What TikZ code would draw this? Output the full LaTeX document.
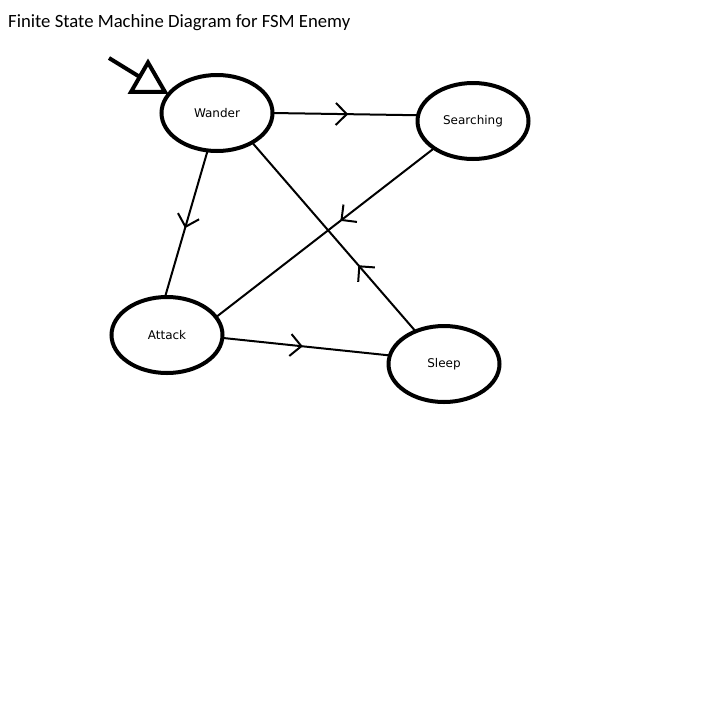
\documentclass[tikz,border=0pt]{standalone}
\usepackage{fontspec}
\setmainfont{DejaVu Sans}
\newfontfamily\titlefont{Carlito}
\usetikzlibrary{shapes.geometric,arrows.meta,decorations.markings}
\begin{document}
\begin{tikzpicture}[x=1pt,y=-1pt,
    fsmstate/.style={draw,ellipse,line width=4pt,minimum width=111pt,minimum height=76pt,
      inner sep=0pt,outer sep=0pt,font=\fontsize{12}{14}\selectfont},
    trans/.style={line width=2pt,postaction={decorate},
      decoration={markings,mark=at position #1 with {\arrow[line width=2pt]{Straight Barb[length=11pt,width=22pt]}}}}]
  \useasboundingbox (0,0) rectangle (714,710);
  \node[anchor=base west,inner sep=0pt,font=\titlefont\fontsize{18.7}{21}\selectfont] (title) at (8,27)
    {Finite State Machine Diagram for FSM Enemy};
  \draw
    (217,113) node[fsmstate] (wander){Wander}
    (473,121) node[fsmstate] (searching){Searching}
    (167,335) node[fsmstate] (attack){Attack}
    (444,364) node[fsmstate] (sleep){Sleep};
  % initial state marker
  \node[draw,regular polygon,regular polygon sides=3,minimum size=39pt,inner sep=0pt,
    outer sep=0pt,line width=4pt] (start) at (148,82) {};
  \coordinate (init) at (109,58);
  \draw[line width=4pt] (init) -- (start);
  \begin{scope}[-]
    \draw[trans=0.52] (wander.0) to (searching.174);
    \draw[trans=0.43] (searching.215) to (attack.20);
    \draw[trans=0.53] (wander.256) to (attack.93);
    \draw[trans=0.48] (attack.357) to (sleep.171);
    \draw[trans=0.35] (sleep.131) to (wander.320);
  \end{scope}
\end{tikzpicture}
\end{document}
